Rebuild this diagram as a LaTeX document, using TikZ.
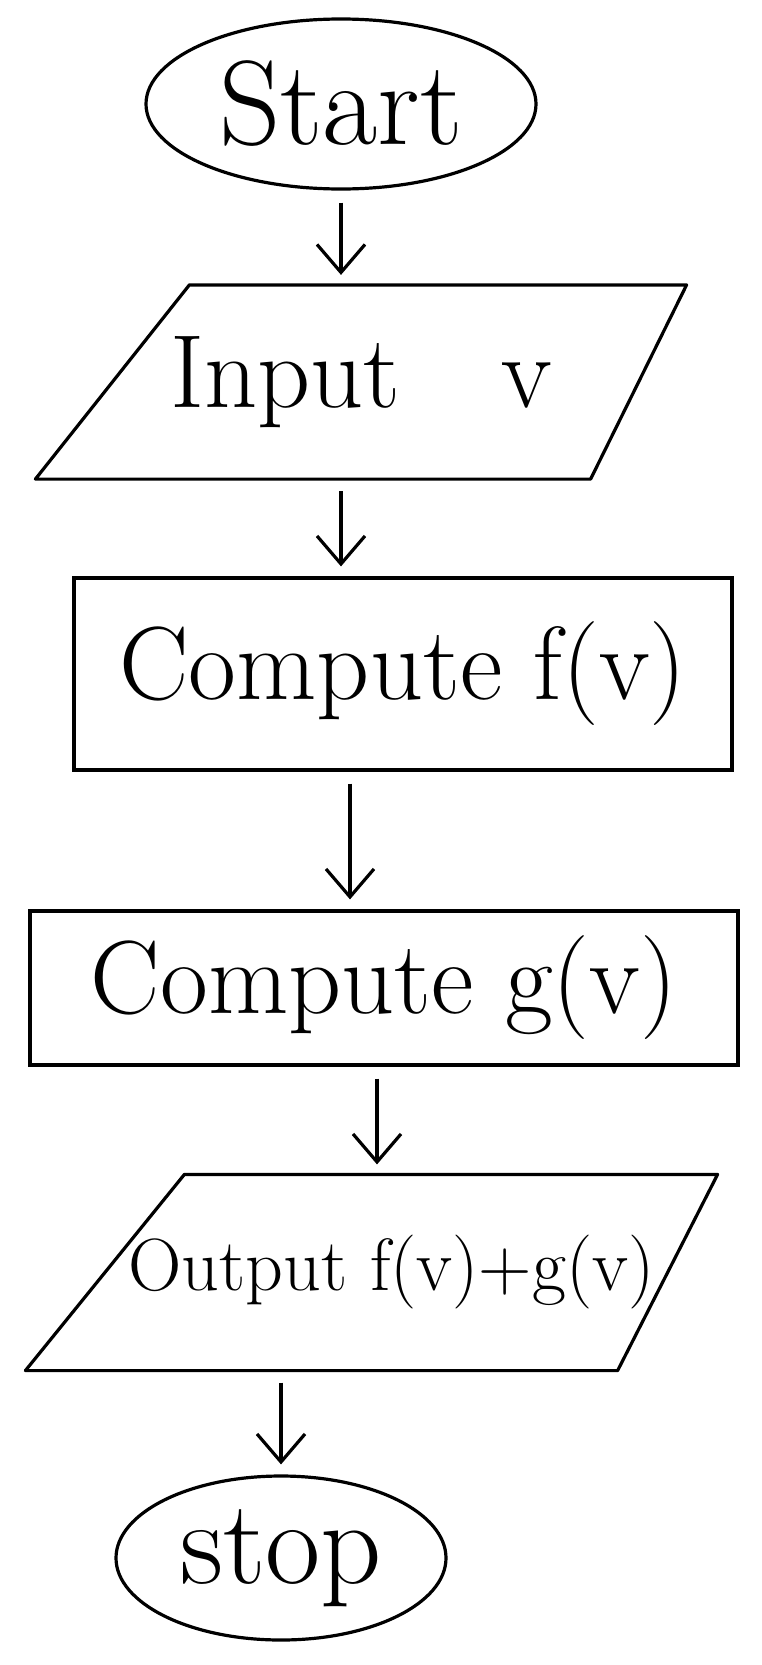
\documentclass[tikz,border=0pt]{standalone}
\usetikzlibrary{shapes.geometric,arrows.meta}
\begin{document}
\begin{tikzpicture}[x=0.5pt,y=-0.5pt,
  every node/.style={line width=1.6pt, inner sep=0pt, font=\fontsize{52}{62}\selectfont},
  term/.style={draw, ellipse},
  io/.style={rectangle},
  ioline/.style={line width=1.6pt, line join=round},
  proc/.style={draw, rectangle},
  arrow/.style={line width=1.6pt, -{Straight Barb[length=14pt,width=24pt]}, shorten <=6pt, shorten >=5pt}]
\useasboundingbox (0,0) rectangle (761,1665);
\fill[white] (0,0) rectangle (761,1665);
\node[term, minimum width=195pt, minimum height=85pt, font=\fontsize{60}{70}\selectfont] (start) at (341,104) {Start};
\node[io, minimum width=324pt, minimum height=95.5pt] (input) at (361,382) {Input \,\,\,\,v};
\draw[ioline] ([xshift=77pt]input.north west) -- (input.north east) -- ([xshift=-48pt]input.south east) -- (input.south west) -- cycle;
\node[proc, minimum width=329pt, minimum height=96pt] (f) at (403,674) {Compute f(v)};
\node[proc, minimum width=354pt, minimum height=77pt] (g) at (384,988) {Compute g(v)};
\node[io, minimum width=344.5pt, minimum height=96.5pt, font=\fontsize{37}{45}\selectfont] (output) at (371.5,1272.5) {\hspace*{20pt}Output f(v)+g(v)};
\draw[ioline] ([xshift=79.5pt]output.north west) -- (output.north east) -- ([xshift=-50pt]output.south east) -- (output.south west) -- cycle;
\node[term, minimum width=165pt, minimum height=82pt, font=\fontsize{60}{70}\selectfont] (stop) at (281,1558) {stop};
\draw[arrow] (start.south) -- (start.south |- input.north);
\draw[arrow] (input.south -| start.south) -- (start.south |- f.north);
\draw[arrow] (f.south -| 350,0) -- (350,0 |- g.north);
\draw[arrow] (g.south -| 377,0) -- (377,0 |- output.north);
\draw[arrow] (output.south -| stop.north) -- (stop.north);
\end{tikzpicture}
\end{document}
